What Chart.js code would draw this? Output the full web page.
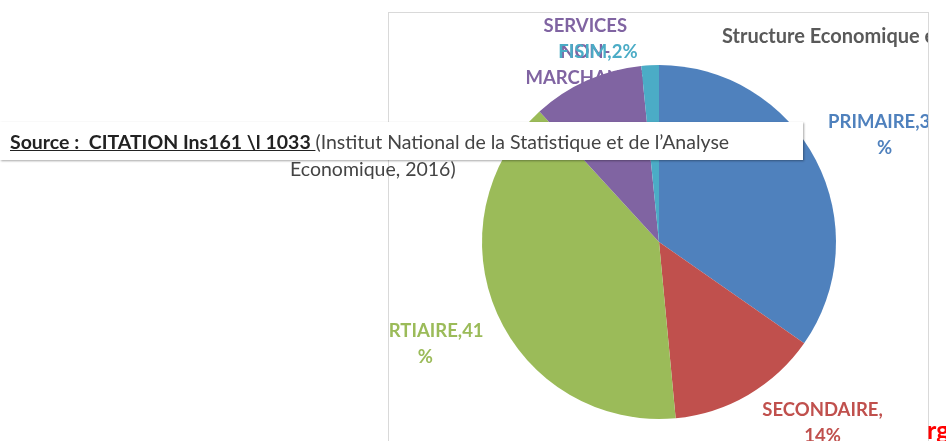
<!DOCTYPE html>
<html>
<head>
<meta charset="utf-8">
<script src="https://cdn.jsdelivr.net/npm/chart.js@4"></script>
<style>
  html, body { margin: 0; padding: 0; background: #fff; overflow: hidden; }
  body { width: 946px; height: 441px; position: relative; font-family: Lato, "Open Sans", sans-serif; }
  #frame { position: absolute; left: 388px; top: 12px; width: 539px; height: 440px; border: 1px solid #d9d9d9; overflow: hidden; }
  #frame canvas { position: absolute; left: 0; top: 0; }
  #source { position: absolute; left: 0; top: 122px; width: 803px; height: 38px; background: #fff; box-shadow: 1px 1px 2px rgba(0,0,0,0.35); }
  #src1 { position: absolute; left: 10px; top: 130px; font-size: 19.5px; color: #444; white-space: nowrap; }
  #src1 b { color: #222; text-decoration: underline; }
  #src2 { position: absolute; left: 290px; top: 157px; font-size: 19.5px; color: #444; white-space: nowrap; }
  #red { position: absolute; left: 927px; top: 414px; font-size: 25px; font-weight: bold; color: #ff0000; white-space: nowrap; }
</style>
</head>
<body>
<div id="frame"><canvas id="pieChart" width="539" height="429"></canvas></div>
<div id="source"></div>
<div id="src1"><b>Source :&nbsp; CITATION Ins161 \l 1033 </b>(Institut National de la Statistique et de l’Analyse</div>
<div id="src2">Economique, 2016)</div>
<div id="red">rg</div>
<script>
// Sectors, shares (percent)
const sectors = ['PRIMAIRE', 'SECONDAIRE', 'TERTIAIRE', 'SERVICES NON-MARCHANDS', 'FISIM'];
const shares = [34.7, 13.8, 39.7, 10.2, 1.6];
// Label lines as printed next to each slice
const labelLines = [
  ['PRIMAIRE,35', '%'],
  ['SECONDAIRE,', '14%'],
  ['TERTIAIRE,41', '%'],
  ['SERVICES', 'NON-', 'MARCHANDS'],
  ['FISIM,2%']
];
const colors = ['#4f81bd', '#c0504d', '#9bbb59', '#8064a2', '#4bacc6'];

// where each label sits: distance (x radius) and angle shift (deg) from the slice middle
const labelPlace = [[1.41, 2.2], [1.38, -11.8], [1.44, 0.4], [1.15, 2.9], [1.13, -14.9]];

const sliceLabels = {
  id: 'sliceLabels',
  beforeDatasetsDraw(chart) {
    const ctx = chart.ctx;
    const arcs = chart.getDatasetMeta(0).data;
    ctx.save();
    ctx.font = 'bold 18.5px Lato, "Open Sans", sans-serif';
    ctx.textAlign = 'center';
    ctx.textBaseline = 'middle';
    arcs.forEach((arc, i) => {
      const mid = (arc.startAngle + arc.endAngle) / 2 + labelPlace[i][1] * Math.PI / 180;
      const d = arc.outerRadius * labelPlace[i][0];
      const x = arc.x + Math.cos(mid) * d;
      const y = arc.y + Math.sin(mid) * d;
      const lines = labelLines[i];
      const lh = 26;
      ctx.fillStyle = colors[i];
      lines.forEach((t, k) => {
        ctx.fillText(t, x, y + (k - (lines.length - 1) / 2) * lh);
      });
    });
    ctx.restore();
  },
  afterDraw(chart) {
    const ctx = chart.ctx;
    ctx.save();
    ctx.font = 'bold 20px Lato, "Open Sans", sans-serif';
    ctx.fillStyle = '#595959';
    ctx.textBaseline = 'middle';
    ctx.fillText('Structure Economique en 2016', 333, 24);
    ctx.restore();
  }
};

const ctx = document.getElementById('pieChart').getContext('2d');
const chart = new Chart(ctx, {
  type: 'pie',
  data: {
    labels: sectors,
    datasets: [{
      data: shares,
      backgroundColor: colors,
      borderWidth: 0
    }]
  },
  options: {
    responsive: false,
    animation: false,
    layout: { padding: { left: 93, right: 92, top: 52, bottom: 23 } },
    plugins: {
      legend: { display: false },
      tooltip: { enabled: false }
    }
  },
  plugins: [sliceLabels]
});
</script>
</body>
</html>
